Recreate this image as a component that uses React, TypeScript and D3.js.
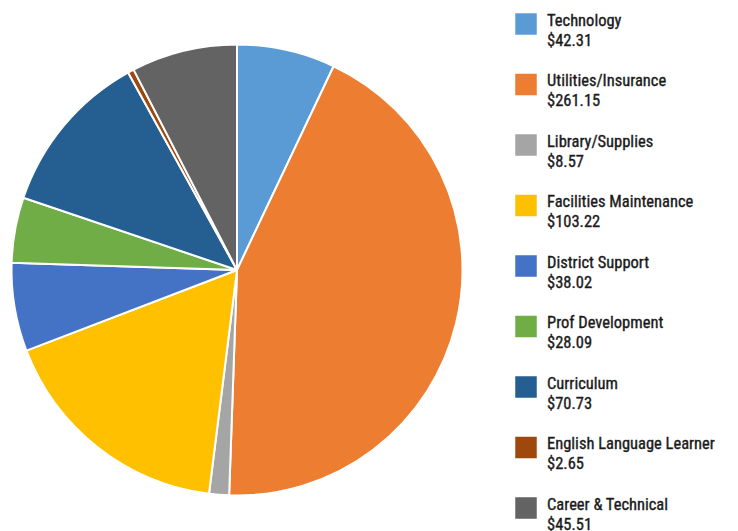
import React from "react";
import * as d3 from "d3";

const categories = [
  "Technology",
  "Utilities/Insurance",
  "Library/Supplies",
  "Facilities Maintenance",
  "District Support",
  "Prof Development",
  "Curriculum",
  "English Language Learner",
  "Career & Technical",
];
const values = [42.31, 261.15, 8.57, 103.22, 38.02, 28.09, 70.73, 2.65, 45.51];
const valueLabels = ["$42.31", "$261.15", "$8.57", "$103.22", "$38.02", "$28.09", "$70.73", "$2.65", "$45.51"];
const colors = ["#5B9BD5", "#ED7D31", "#A5A5A5", "#FFC000", "#4472C4", "#70AD47", "#255E91", "#9E480E", "#636363"];

export default function App() {
  const W = 738, H = 531;
  const cx = 237, cy = 270, r = 225.5;
  const pie = d3.pie<number>().sort(null).value((d) => d)(values);
  const arc = d3.arc<d3.PieArcDatum<number>>().innerRadius(0).outerRadius(r);
  const font = "'Roboto Condensed', 'Liberation Sans Narrow', sans-serif";
  return (
    <svg width={W} height={H} style={{ position: "absolute", left: 0, top: 0 }}>
      <rect width={W} height={H} fill="#fff" />
      <g transform={`translate(${cx},${cy})`}>
        {pie.map((p, i) => (
          <path key={i} d={arc(p) || ""} fill={colors[i]} stroke="#fff" strokeWidth={2} strokeLinejoin="round" />
        ))}
      </g>
      {categories.map((c, i) => {
        const y = 13 + i * 60.5;
        return (
          <g key={c}>
            <rect x={515} y={y} width={22} height={22} fill={colors[i]} stroke="#fff" strokeWidth={0.5} />
            <text x={547} y={y + 12.5} fontFamily={font} fontSize={16.5} fontWeight="normal" stroke="#1a1a1a" strokeWidth={0.35} fill="#1a1a1a">{c}</text>
            <text x={547} y={y + 32.5} fontFamily={font} fontSize={16.5} fontWeight="normal" stroke="#1a1a1a" strokeWidth={0.35} fill="#1a1a1a">{valueLabels[i]}</text>
          </g>
        );
      })}
    </svg>
  );
}
